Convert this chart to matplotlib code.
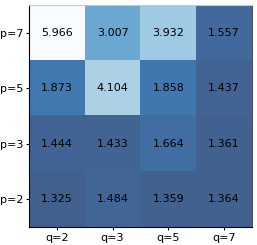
import numpy as np
import matplotlib
matplotlib.use("Agg")
import matplotlib.pyplot as plt

# rows top to bottom, columns left to right
p_labels = ['p=7', 'p=5', 'p=3', 'p=2']
q_labels = ['q=2', 'q=3', 'q=5', 'q=7']
row_p7 = [5.966, 3.007, 3.932, 1.557]
row_p5 = [1.873, 4.104, 1.858, 1.437]
row_p3 = [1.444, 1.433, 1.664, 1.361]
row_p2 = [1.325, 1.484, 1.359, 1.364]

vals = np.array([row_p7, row_p5, row_p3, row_p2])

fig = plt.figure(figsize=(2.57, 2.45), dpi=100)
ax = fig.add_axes([0.113, 0.073, 0.867, 0.907])
ax.imshow(vals, cmap='Blues_r', alpha=0.77, aspect='auto')

for i in range(vals.shape[0]):
    for j in range(vals.shape[1]):
        ax.text(j, i, '%.3f' % vals[i, j], ha='center', va='center', fontsize=8, color='black')

ax.set_xticks(range(len(q_labels)))
ax.set_xticklabels(q_labels, fontsize=8)
ax.set_yticks(range(len(p_labels)))
ax.set_yticklabels(p_labels, fontsize=8)
ax.tick_params(length=2, pad=2)
ax.spines['top'].set_color('#c8c8c8')
ax.spines['right'].set_color('#555555')

fig.savefig('out.png', dpi=100)
